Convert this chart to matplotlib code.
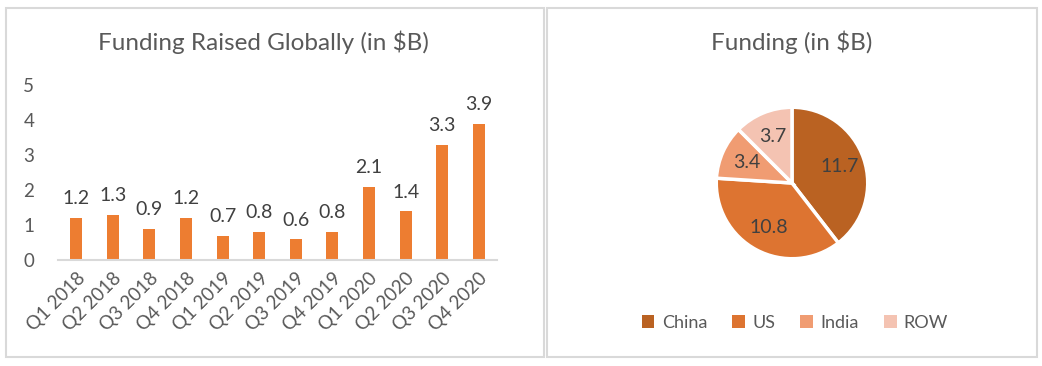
import matplotlib.pyplot as plt
from matplotlib.patches import Rectangle

plt.rcParams['font.family'] = ['Lato', 'DejaVu Sans']

# 数据
quarters = ['Q1 2018', 'Q2 2018', 'Q3 2018', 'Q4 2018',
            'Q1 2019', 'Q2 2019', 'Q3 2019', 'Q4 2019',
            'Q1 2020', 'Q2 2020', 'Q3 2020', 'Q4 2020']
funding_global = [1.2, 1.3, 0.9, 1.2, 0.7, 0.8, 0.6, 0.8, 2.1, 1.4, 3.3, 3.9]

regions = ['China', 'US', 'India', 'ROW']
funding_region = [11.7, 10.8, 3.4, 3.7]
region_colors = ['#BA6222', '#DD7431', '#F09C72', '#F4C3B2']

text_gray = '#595959'
W, H = 1042, 366

fig = plt.figure(figsize=(W / 100, H / 100), dpi=100)

# 两个面板的边框
for x0, x1 in [(6, 544), (547, 1037)]:
    fig.patches.append(Rectangle((x0 / W, 1 - 357 / H), (x1 - x0) / W, (357 - 8) / H,
                                 transform=fig.transFigure, fill=False,
                                 edgecolor='#D9D9D9', linewidth=1.5))

# 左图：柱状图
ax = fig.add_axes([58 / W, 106 / H, (497 - 58) / W, 175 / H])
x = list(range(len(quarters)))
ax.bar(x, funding_global, width=0.33, color='#ED7D31')
for xi, v in zip(x, funding_global):
    ax.text(xi, v + 0.3, f'{v}', ha='center', va='bottom', fontsize=14, color='#404040')
ax.set_xlim(-0.5, 11.5)
ax.set_ylim(0, 5)
ax.set_yticks([0, 1, 2, 3, 4, 5])
ax.set_xticks(x)
ax.set_xticklabels(quarters, rotation=45, ha='right', rotation_mode='anchor')
ax.tick_params(axis='both', length=0, labelsize=13.5, labelcolor=text_gray)
ax.tick_params(axis='y', pad=17)
ax.tick_params(axis='x', pad=7)
for s in ['top', 'left', 'right']:
    ax.spines[s].set_visible(False)
ax.spines['bottom'].set_color('#D9D9D9')
ax.spines['bottom'].set_linewidth(1.5)
fig.text(263 / W, 1 - 42 / H, 'Funding Raised Globally (in $B)', ha='center', va='center',
         fontsize=17.5, color=text_gray)

# 右图：饼图
r = 78
ax2 = fig.add_axes([(792 - r) / W, (H - 183 - r) / H, 2 * r / W, 2 * r / H])
wedges, texts, autotexts = ax2.pie(funding_region, colors=region_colors, startangle=90,
                                   counterclock=False, radius=1,
                                   autopct=lambda p: f'{p * sum(funding_region) / 100:.1f}',
                                   pctdistance=0.66,
                                   wedgeprops=dict(edgecolor='white', linewidth=2.5))
for t in autotexts:
    t.set_fontsize(14)
    t.set_color('#404040')
ax2.set_xlim(-1.03, 1.03)
ax2.set_ylim(-1.03, 1.03)
ax2.set_aspect('equal')
fig.text(792 / W, 1 - 42 / H, 'Funding (in $B)', ha='center', va='center',
         fontsize=17.5, color=text_gray)

leg = fig.legend(wedges, regions, loc='center', bbox_to_anchor=(795 / W, 1 - 323 / H),
                 ncol=4, frameon=False, fontsize=13, handlelength=0.7, handleheight=0.7,
                 handletextpad=0.4, columnspacing=1.4)
for h in leg.legend_handles:
    h.set_linewidth(0)
for t in leg.get_texts():
    t.set_color(text_gray)

plt.savefig('out.png', dpi=100)
